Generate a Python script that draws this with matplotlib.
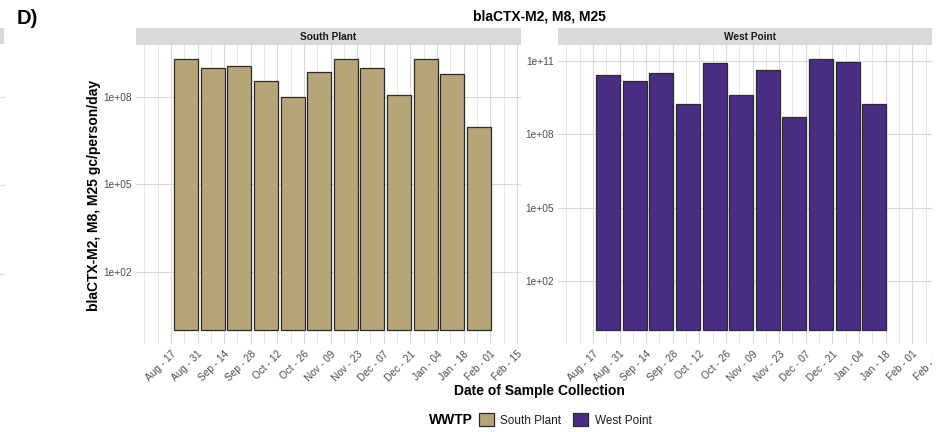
import datetime as dt

import matplotlib
matplotlib.use("Agg")
import matplotlib.pyplot as plt
import matplotlib.dates as mdates
from matplotlib.patches import Rectangle, Patch
from matplotlib.lines import Line2D
from matplotlib.ticker import NullLocator, FixedLocator, FuncFormatter
import numpy as np

plt.rcParams["font.family"] = ["Liberation Sans", "DejaVu Sans"]

# ---------------------------------------------------------------- data
plants = ["South Plant", "West Point"]
plant_colors = ["#B7A57A", "#4B2E83"]

south_dates = ["2021-08-25", "2021-09-08", "2021-09-22", "2021-10-06",
               "2021-10-20", "2021-11-03", "2021-11-17", "2021-12-01",
               "2021-12-15", "2021-12-29", "2022-01-12", "2022-01-26"]
south_values = [2.04e9, 9.8e8, 1.10e9, 3.4e8, 1.0e8, 7.1e8,
                2.0e9, 1.0e9, 1.15e8, 1.9e9, 5.9e8, 9.1e6]

west_dates = ["2021-08-25", "2021-09-08", "2021-09-22", "2021-10-06",
              "2021-10-20", "2021-11-03", "2021-11-17", "2021-12-01",
              "2021-12-15", "2021-12-29", "2022-01-12"]
west_values = [2.63e10, 1.45e10, 3.3e10, 1.78e9, 8.5e10, 4.17e9,
               4.17e10, 5.1e8, 1.23e11, 9.3e10, 1.66e9]

tick_dates = ["2021-08-17", "2021-08-31", "2021-09-14", "2021-09-28",
              "2021-10-12", "2021-10-26", "2021-11-09", "2021-11-23",
              "2021-12-07", "2021-12-21", "2022-01-04", "2022-01-18",
              "2022-02-01", "2022-02-15"]
tick_labels = ["Aug - 17", "Aug - 31", "Sep - 14", "Sep - 28", "Oct - 12",
               "Oct - 26", "Nov - 09", "Nov - 23", "Dec - 07", "Dec - 21",
               "Jan - 04", "Jan - 18", "Feb - 01", "Feb - 15"]
y_breaks = [1e2, 1e5, 1e8, 1e11]

title = "blaCTX-M2, M8, M25"
y_title = "blaCTX-M2, M8, M25 gc/person/day"
x_title = "Date of Sample Collection"

# ---------------------------------------------------------------- figure
W, H, DPI = 951, 432, 100
fig = plt.figure(figsize=(W / DPI, H / DPI), dpi=DPI, facecolor="white")


def px_rect(x0, y0, x1, y1):
    return [x0 / W, 1 - y1 / H, (x1 - x0) / W, (y1 - y0) / H]


def to_num(s):
    return mdates.date2num(dt.datetime.strptime(s, "%Y-%m-%d"))


GRID_MAJOR = "#DADADA"
GRID_MINOR = "#E4E4E4"
TICK_COL = "#4D4D4D"

ref = to_num(tick_dates[0])
x_lo, x_hi = ref - 18.4, ref + 184.2
minor_x = [ref + d for d in range(-14, 190, 7)
           if ref + d not in [to_num(t) for t in tick_dates]]

panels = [
    (plants[0], plant_colors[0], south_dates, south_values, (136, 521)),
    (plants[1], plant_colors[1], west_dates, west_values, (558, 943)),
]

for name, col, dates, vals, (x0, x1) in panels:
    ax = fig.add_axes(px_rect(x0, 45, x1, 344))
    ax.set_facecolor("white")
    for sp in ax.spines.values():
        sp.set_visible(False)

    xs = [to_num(d) for d in dates]
    vals = np.asarray(vals, dtype=float)
    ax.set_yscale("log")
    ax.bar(xs, vals - 1.0, bottom=1.0, width=12.6, color=col,
           edgecolor="#2A2A2A", linewidth=0.9, zorder=3)

    m = np.log10(vals.max())
    ax.set_ylim(10 ** (-0.05 * m), 10 ** (1.05 * m))
    ax.set_xlim(x_lo, x_hi)

    ax.xaxis.set_major_locator(FixedLocator([to_num(t) for t in tick_dates]))
    ax.xaxis.set_minor_locator(FixedLocator(minor_x))
    ax.set_xticklabels(tick_labels)
    ax.yaxis.set_major_locator(FixedLocator(y_breaks))
    ax.yaxis.set_minor_locator(NullLocator())
    ax.yaxis.set_major_formatter(FuncFormatter(lambda v, p: f"{v:.0e}"))

    ax.grid(which="major", color=GRID_MAJOR, linewidth=0.8, zorder=0)
    ax.grid(which="minor", axis="x", color=GRID_MINOR, linewidth=0.6, zorder=0)
    ax.set_axisbelow(True)

    ax.tick_params(which="both", length=0)
    ax.tick_params(axis="y", labelsize=7.3, labelcolor=TICK_COL, pad=3)
    ax.tick_params(axis="x", labelsize=7.3, labelcolor=TICK_COL, pad=3.5)
    for lab in ax.get_xticklabels():
        lab.set_rotation(45)
        lab.set_ha("right")
        lab.set_va("top")
        lab.set_rotation_mode("anchor")

    # facet strip
    sax = fig.add_axes(px_rect(x0, 28, x1, 45))
    sax.set_facecolor("#D9D9D9")
    sax.set_xticks([])
    sax.set_yticks([])
    for sp in sax.spines.values():
        sp.set_visible(False)
    sax.text(0.5, 0.5, name, ha="center", va="center", fontsize=7.3,
             fontweight="bold", color="#1A1A1A", transform=sax.transAxes)

# titles
fig.text(16.5 / W, 1 - 24 / H, "D)", fontsize=14.5, fontweight="bold",
         va="baseline", ha="left")
fig.text(539.5 / W, 1 - 20.5 / H, title, fontsize=10, fontweight="bold",
         va="baseline", ha="center")
fig.text(94 / W, 1 - 195 / H, y_title, fontsize=10, fontweight="bold",
         rotation=90, va="center", ha="center")
fig.text(539.5 / W, 1 - 391 / H, x_title, fontsize=10, fontweight="bold",
         va="center", ha="center")

# legend
fig.text(429 / W, 1 - 420 / H, "WWTP", fontsize=10, fontweight="bold",
         va="center", ha="left")
handles = [Patch(facecolor=c, edgecolor="#2A2A2A", linewidth=0.9)
           for c in plant_colors]
fig.legend(handles, plants, loc="center left",
           bbox_to_anchor=(479 / W, 1 - 420 / H), ncol=2, frameon=False,
           fontsize=8.5, handlelength=1.27, handleheight=1.27,
           handletextpad=0.55, columnspacing=1.0, borderpad=0,
           borderaxespad=0, labelcolor="#1A1A1A")

# edge of the neighbouring panel on the left
fig.add_artist(Rectangle((0, 1 - 44 / H), 4 / W, 16 / H,
                         transform=fig.transFigure, facecolor="#D9D9D9",
                         edgecolor="none"))
for yy in (97, 185, 274):
    fig.add_artist(Line2D([0, 4 / W], [1 - yy / H] * 2,
                          transform=fig.transFigure, color=GRID_MAJOR,
                          linewidth=0.8))

# right-hand crop of the composite figure
fig.add_artist(Rectangle((932 / W, 0), (W - 932) / W, 1,
                         transform=fig.transFigure, facecolor="white",
                         edgecolor="none", zorder=100))

fig.savefig("out.png", dpi=DPI, facecolor="white")
